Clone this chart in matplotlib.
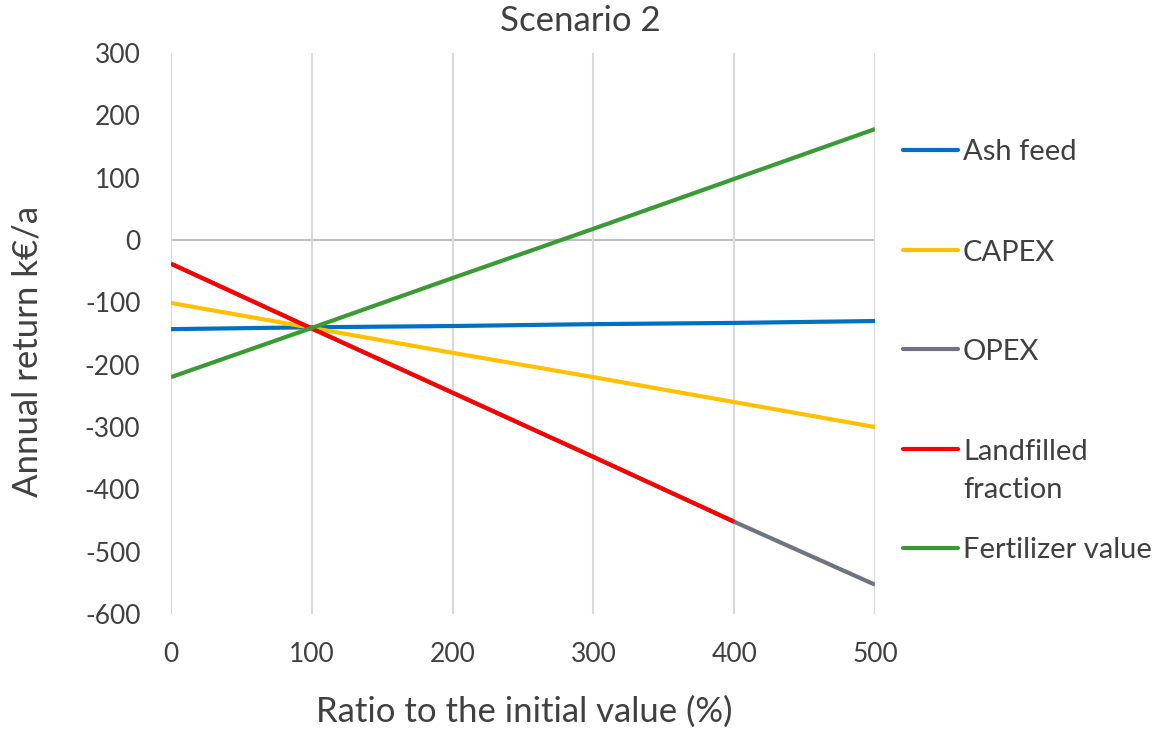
import matplotlib
matplotlib.use("Agg")
import matplotlib.pyplot as plt
from matplotlib.lines import Line2D

plt.rcParams['font.family'] = ['Lato', 'DejaVu Sans']

# Sensitivity of annual return to each parameter (k€/a)
ratio = [0, 100, 200, 300, 400, 500]
ash_feed = [-143, -140, -138, -135, -133, -130]
capex = [-101, -141, -181, -220, -260, -300]
opex = [-38, -142, -245, -348, -452, -553]
landfilled_ratio = [0, 100, 200, 300, 400]
landfilled = [-38, -142, -245, -348, -452]
fertilizer = [-220, -141, -61, 18, 98, 178]

series_names = ["Ash feed", "CAPEX", "OPEX", "Landfilled\nfraction", "Fertilizer value"]
series_colors = ["#0070C0", "#FFC000", "#6E7480", "#FF0000", "#3A9A33"]
series_x = [ratio, ratio, ratio, landfilled_ratio, ratio]
series_y = [ash_feed, capex, opex, landfilled, fertilizer]

x_ticks = [0, 100, 200, 300, 400, 500]
y_ticks = [300, 200, 100, 0, -100, -200, -300, -400, -500, -600]

text_color = "#404040"
W, H = 1167, 729

fig = plt.figure(figsize=(W / 100, H / 100), dpi=100)
ax = fig.add_axes([171 / W, 1 - 614 / H, 704 / W, 561 / H])

for xs, ys, c in zip(series_x, series_y, series_colors):
    ax.plot(xs, ys, color=c, linewidth=3.0, solid_capstyle='butt', zorder=3)

ax.set_xlim(0, 500)
ax.set_ylim(-600, 300)
ax.set_xticks(x_ticks)
ax.set_yticks(y_ticks)
ax.set_yticklabels([str(v) for v in y_ticks])

for s in ax.spines.values():
    s.set_visible(False)
ax.grid(axis='x', color='#D9D9D9', linewidth=1.5, zorder=0)
ax.axhline(0, color='#BFBFBF', linewidth=1.5, zorder=1)
ax.tick_params(axis='both', length=0, labelsize=19, labelcolor=text_color)
ax.tick_params(axis='y', pad=22)
ax.tick_params(axis='x', pad=20)

ax.set_xlabel("Ratio to the initial value (%)", fontsize=25, color=text_color, va='center')
ax.xaxis.set_label_coords((524 - 171) / 704, (614 - 712) / 561)
ax.set_ylabel("Annual return k€/a", fontsize=25, color=text_color, va='center')
ax.yaxis.set_label_coords((28 - 171) / 704, (614 - 351) / 561)
fig.text(580 / W, 1 - 21 / H, "Scenario 2", fontsize=25, color=text_color,
         ha='center', va='center')

# Legend to the right of the plot, entries evenly spaced by their first line
entry_y = [150, 250, 349, 449, 548]
line_step = 39
for name, c, py in zip(series_names, series_colors, entry_y):
    fy = 1 - py / H
    fig.add_artist(Line2D([903 / W, 958 / W], [fy, fy], color=c, linewidth=3.0,
                          solid_capstyle='round', transform=fig.transFigure))
    for i, part in enumerate(name.split("\n")):
        fig.text(963 / W, 1 - (py + 10.5 + i * line_step) / H, part, fontsize=21,
                 color=text_color, ha='left', va='baseline')

fig.savefig("out.png", dpi=100)
